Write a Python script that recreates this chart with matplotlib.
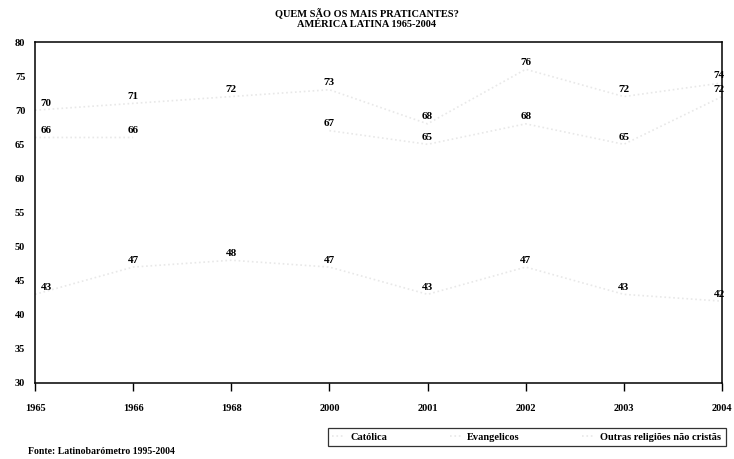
import numpy as np
import matplotlib.pyplot as plt

# data
years = ["1965", "1966", "1968", "2000", "2001", "2002", "2003", "2004"]
evangelicos = [70, 71, 72, 73, 68, 76, 72, 74]
catolica = [66, 66, np.nan, 67, 65, 68, 65, 72]
outras = [43, 47, 48, 47, 43, 47, 43, 42]
series_names = ["Católica", "Evangelicos", "Outras religiões não cristãs"]

plt.rcParams['font.family'] = ['Liberation Serif', 'DejaVu Serif']

fig = plt.figure(figsize=(7.34, 4.59), dpi=100)
ax = fig.add_axes([35 / 734, 1 - 383 / 459, 687 / 734, 341 / 459])

x = np.arange(len(years))
line_style = dict(color="#e8e8e8", linestyle=":", linewidth=1.2)
h_cat, = ax.plot(x, catolica, **line_style)
h_evg, = ax.plot(x, evangelicos, **line_style)
h_out, = ax.plot(x, outras, **line_style)

# value labels, nudged inside at the two ends like the original
for values in (evangelicos, catolica, outras):
    for i, v in enumerate(values):
        if np.isnan(v):
            continue
        dx = 8 if i == 0 else (-2 if i == len(values) - 1 else 0)
        ax.annotate(f"{v:.0f}", (x[i], v), xytext=(dx, 5), textcoords="offset points",
                    ha="center", va="center", fontsize=8, fontweight="bold")

ax.set_xlim(0, len(years) - 1)
ax.set_ylim(30, 80)
ax.set_yticks(range(30, 81, 5))
ax.set_xticks(x)
ax.set_xticklabels(years)
ax.tick_params(axis="y", length=0, pad=7, labelsize=7.5)
ax.tick_params(axis="x", length=6, width=1, pad=9, labelsize=7.5)
for lab in ax.get_xticklabels() + ax.get_yticklabels():
    lab.set_fontweight("bold")
for s in ax.spines.values():
    s.set_color("black")
    s.set_linewidth(1.1)

fig.text(0.5, 1 - 19 / 459, "QUEM SÃO OS MAIS PRATICANTES?\nAMÉRICA LATINA 1965-2004",
         ha="center", va="center", fontsize=7.5, fontweight="bold", linespacing=1.05)
fig.text(28 / 734, 1 - 452 / 459, "Fonte: Latinobarómetro 1995-2004",
         ha="left", va="center", fontsize=7, fontweight="bold")

leg = fig.legend([h_cat, h_evg, h_out], series_names, loc="center right",
                 bbox_to_anchor=(731 / 734, 1 - 437 / 459), ncol=3, frameon=True,
                 fancybox=False, edgecolor="black", fontsize=7.5, handlelength=1.2,
                 handletextpad=0.5, columnspacing=6.0, borderpad=0.45)
leg.get_frame().set_linewidth(0.9)
for t in leg.get_texts():
    t.set_fontweight("bold")

fig.savefig("out.png", dpi=100)
